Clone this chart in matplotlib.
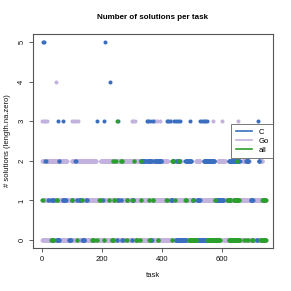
import numpy as np
import matplotlib
matplotlib.use("Agg")
import matplotlib.pyplot as plt
from matplotlib.lines import Line2D

plt.rcParams['font.family'] = ['Liberation Sans', 'DejaVu Sans']

# ---- data ----
series_names = ["C", "Go", "all"]
series_colors = ["#3a6fc0", "#c4b2de", "#2ca02c"]

# ranges of task ids (inclusive) per series at the 0 and 1 levels
go_row1 = [(0, 747)]
c_row1 = [(20, 21), (31, 34), (39, 40), (68, 78), (99, 100), (116, 117), (124, 128),
          (148, 150), (201, 202), (252, 255), (263, 264), (301, 305), (430, 435),
          (504, 506), (519, 527), (584, 606), (627, 629), (698, 704)]
all_row1 = [(0, 1), (48, 50), (98, 99), (132, 133), (191, 193), (223, 224), (240, 242),
            (282, 284), (301, 302), (330, 331), (357, 358), (370, 372), (415, 417),
            (444, 445), (479, 482), (505, 506), (577, 579), (619, 628), (640, 658),
            (736, 747)]

go_row0 = [(0, 595), (605, 747)]
c_row0 = [(48, 56), (90, 95), (134, 140), (250, 251), (267, 269), (300, 301),
          (363, 366), (446, 482), (520, 548), (717, 719)]
all_row0 = [(30, 38), (116, 117), (167, 172), (183, 184), (206, 207), (232, 238),
            (281, 282), (314, 317), (326, 327), (358, 360), (386, 388), (433, 434),
            (490, 516), (552, 594), (624, 660), (676, 677), (686, 687), (701, 705),
            (730, 747)]

# ranges at the 2 level
go_row2 = [(0, 82), (99, 180), (195, 372), (395, 420), (440, 465),
           (515, 528), (588, 612), (670, 692), (726, 736)]
c_row2 = [(10, 11), (55, 56), (111, 112), (330, 345), (352, 366), (375, 398),
          (436, 440), (450, 458), (479, 498), (540, 576), (624, 660), (682, 690),
          (724, 726)]
all_row2 = [(237, 238), (245, 246), (264, 267), (306, 307), (330, 331), (434, 438),
            (456, 459), (651, 652)]

# single tasks at the higher levels
go_row3 = [0, 5, 10, 15, 100, 106, 113, 120, 300, 305, 310, 372, 378, 383, 394, 430,
           571, 600, 655]
c_row3 = [53, 70, 183, 205, 252, 350, 355, 360, 372, 416, 422, 428, 440, 448, 455,
          460, 494, 527, 533, 540, 545, 550, 722]
all_row3 = [250]
go_row4 = [46]
c_row4 = [228]
c_row5 = [2, 5, 211]


def expand(ranges):
    out = []
    for a, b in ranges:
        out.extend(range(a, b + 1))
    return np.array(out)


fig = plt.figure(figsize=(2.91, 2.91), dpi=100)
ax = fig.add_axes([33 / 291, 1 - 248 / 291, 240 / 291, 214 / 291])

ms = 2.9


def pts(x, level, color, z):
    x = np.asarray(x)
    ax.plot(x, np.full(len(x), level), 'o', color=color, ms=ms, mew=0,
            zorder=z, clip_on=False)


cC, cG, cA = series_colors
pts(expand(go_row1), 1, cG, 2)
pts(expand(c_row1), 1, cC, 3)
pts(expand(all_row1), 1, cA, 4)
pts(expand(go_row0), 0, cG, 2)
pts(expand(c_row0), 0, cC, 3)
pts(expand(all_row0), 0, cA, 4)
pts(expand(go_row2), 2, cG, 2)
pts(expand(c_row2), 2, cC, 3)
pts(expand(all_row2), 2, cA, 4)
pts(go_row3, 3, cG, 2)
pts(c_row3, 3, cC, 3)
pts(all_row3, 3, cA, 4)
pts(go_row4, 4, cG, 2)
pts(c_row4, 4, cC, 3)
pts(c_row5, 5, cC, 3)

ax.set_xlim(-31, 772)
ax.set_ylim(-0.2, 5.2)
ax.set_xticks([0, 200, 400, 600])
ax.set_yticks([0, 1, 2, 3, 4, 5])
for s in ax.spines.values():
    s.set_color('#555555')
    s.set_linewidth(0.8)
ax.tick_params(axis='both', length=3, width=0.6, color='#444444',
               labelsize=5.5, labelcolor='#111111', pad=2.5)
ax.tick_params(axis='y', labelrotation=90)
for lab in ax.get_yticklabels():
    lab.set_va('center')

ax.set_xlabel("task", fontsize=5.5, color='#111111', labelpad=7)
ax.set_ylabel("# solutions (length.na.zero)", fontsize=5.5, color='#111111', labelpad=5)
ax.set_title("Number of solutions per task", fontsize=5.8, fontweight='bold',
             color='#000000', pad=11)

handles = [Line2D([0], [0], color=c, lw=1.2) for c in series_colors]
leg = ax.legend(handles, series_names, loc='center right', bbox_to_anchor=(1.0, 0.5),
                borderaxespad=0, fontsize=5.5, frameon=True, fancybox=False,
                handlelength=2.2, handletextpad=0.8, borderpad=0.55, labelspacing=0.2)
leg.get_frame().set_edgecolor('#555555')
leg.get_frame().set_linewidth(0.7)
leg.set_zorder(10)

fig.savefig("out.png", dpi=100)
